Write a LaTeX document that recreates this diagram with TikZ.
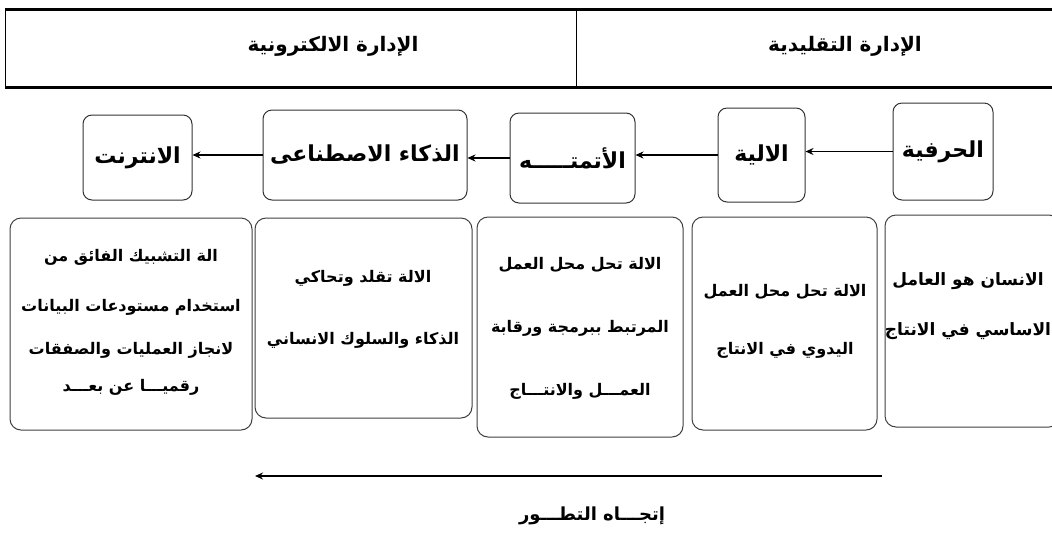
\documentclass[tikz,border=0pt]{standalone}
\usepackage{fontspec}
\newfontfamily\arabicfont[Script=Arabic]{DejaVu Sans}
\TeXXeTstate=1
\usetikzlibrary{arrows.meta}
\newcommand{\ar}[1]{\beginR #1\endR}
\begin{document}
\begin{tikzpicture}[x=1pt,y=-1pt,
  hbox/.style={draw=black!80, line width=1pt, rounded corners=9pt, inner sep=0pt, font=\arabicfont\bfseries\fontsize{22}{26}\selectfont},
  dbox/.style={draw=black!75, line width=1pt, rounded corners=11pt, inner sep=0pt},
  dtext/.style={align=center, inner sep=0pt, font=\arabicfont\bfseries\fontsize{16}{19}\selectfont},
  htext/.style={inner sep=0pt, font=\arabicfont\bfseries\fontsize{20}{24}\selectfont},
  arr/.style={line width=1.5pt, -{Stealth[length=8pt,width=7pt]}}
]
\useasboundingbox (0,0) rectangle (1052,542);
\fill[white] (0,0) rectangle (1052,542);
% header
\draw[line width=1pt] (5,9) -- (5,87);
\draw[line width=1pt] (576,9) -- (576,87);
\draw[line width=3pt] (5,9) -- (1060,9);
\draw[line width=3pt] (5,87) -- (1060,87);
\node[htext] (he) at (333,46) {\ar{الإدارة الالكترونية}};
\node[htext] (ht) at (845,46) {\ar{الإدارة التقليدية}};
% top row
\node[hbox, minimum width=100pt, minimum height=97pt] (h1) at (943,151.5) {\ar{الحرفية}};
\node[hbox, minimum width=87pt, minimum height=94pt] (h2) at (761.5,155) {\ar{الالية}};
\node[hbox, minimum width=125pt, minimum height=90pt] (h3) at (572.5,158) {\ar{الأتمتـــــه}};
\node[hbox, minimum width=204pt, minimum height=90pt] (h4) at (365,155) {\ar{الذكاء الاصطناعى}};
\node[hbox, minimum width=109pt, minimum height=85pt] (h5) at (137.5,157.5) {\ar{الانترنت}};
\draw[arr] (h1.west) -- (h1.west -| h2.east);
\draw[arr] (h2.west) -- (h2.west -| h3.east);
\draw[arr] (h3.west) -- (h3.west -| h4.east);
\draw[arr] (h4.west) -- (h4.west -| h5.east);
% description boxes
\node[dbox, minimum width=175pt, minimum height=212pt] (b1) at (972.5,321) {};
\node[dbox, minimum width=185pt, minimum height=213pt] (b2) at (784.5,323.5) {};
\node[dbox, minimum width=206pt, minimum height=220pt] (b3) at (580,327) {};
\node[dbox, minimum width=217pt, minimum height=200pt] (b4) at (363.5,318) {};
\node[dbox, minimum width=242pt, minimum height=212pt] (b5) at (131,324) {};
\node[dtext, font=\arabicfont\bfseries\fontsize{17}{20}\selectfont] (t1) at (968,306) {\ar{الانسان هو العامل}\\[30pt]\ar{الاساسي في الانتاج}};
\node[dtext] (t2) at (785,321) {\ar{الالة تحل محل العمل}\\[39pt]\ar{اليدوي في الانتاج}};
\node[dtext] (t3) at (580,328) {\ar{الالة تحل محل العمل}\\[44pt]\ar{المرتبط ببرمجة ورقابة}\\[44pt]\ar{العمـــل والانتـــاج}};
\node[dtext] (t4) at (363,309) {\ar{الالة تقلد وتحاكي}\\[43pt]\ar{الذكاء والسلوك الانساني}};
\node[dtext] (t5) at (131,322) {\ar{الة التشبيك الفائق من}\\[31pt]\ar{استخدام مستودعات البيانات}\\[24pt]\ar{لانجاز العمليات والصفقات}\\[18pt]\ar{رقميـــا عن بعـــد}};
% direction
\coordinate (ds) at (882,476);
\coordinate (de) at (255,476);
\draw[arr, line width=2.5pt] (ds) -- (de);
\node[inner sep=0pt, font=\arabicfont\bfseries\fontsize{18}{22}\selectfont] (dl) at (592,516) {\ar{إتجـــاه التطـــور}};
\end{tikzpicture}
\end{document}
